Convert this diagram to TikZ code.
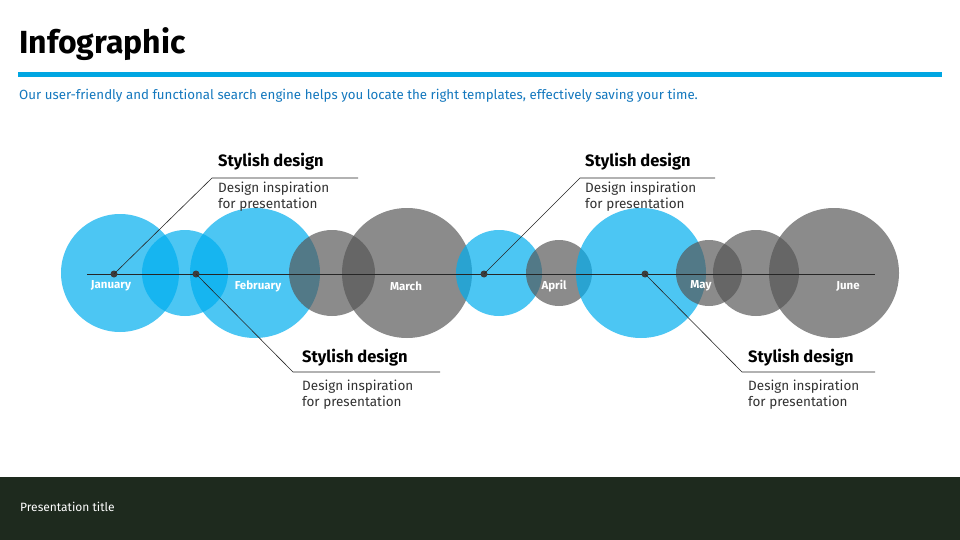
\documentclass[tikz,border=0pt]{standalone}
\usepackage{fontspec}
\setmainfont{Fira Sans}
\definecolor{cblue}{RGB}{0,174,239}
\definecolor{cgrey}{RGB}{85,85,85}
\definecolor{rule}{RGB}{0,166,226}
\definecolor{subc}{RGB}{20,120,190}
\definecolor{dotg}{RGB}{60,60,60}
\definecolor{bodyc}{RGB}{50,50,50}
\definecolor{foot}{RGB}{30,42,30}
\begin{document}
\begin{tikzpicture}[x=1pt,y=-1pt,
  bc/.style={fill=cblue,fill opacity=0.7},
  gc/.style={fill=cgrey,fill opacity=0.68},
  mon/.style={text=white,font=\bfseries\fontsize{11.5}{13}\selectfont},
  dotc/.style={circle,fill=dotg,inner sep=0,minimum size=7pt},
  ttl/.style={anchor=west,font=\bfseries\fontsize{16.5}{19}\selectfont,inner sep=0},
  bdy/.style={anchor=north west,align=left,font=\fontsize{13.5}{16}\selectfont,text=bodyc,inner sep=0},
  cl/.style={draw=black!85,line width=0.6pt}]
\useasboundingbox (0,0) rectangle (960,540);
\fill[white] (0,0) rectangle (960,540);
\node[anchor=west,inner sep=0,font=\bfseries\fontsize{32}{36}\selectfont] (title) at (19,44) {Infographic};
\fill[rule] (18,72.5) rectangle (942,77.5);
\node[anchor=west,inner sep=0,text=subc,font=\fontsize{13.3}{15}\selectfont] (sub) at (19,96) {Our user-friendly and functional search engine helps you locate the right templates, effectively saving your time.};
% circles
\fill[bc] (120,273) circle (59);
\fill[bc] (185,273) circle (43);
\fill[bc] (255,273) circle (65);
\fill[gc] (332,273) circle (43);
\fill[gc] (407,273) circle (65);
\fill[bc] (499,273) circle (43);
\fill[gc] (559,273) circle (33);
\fill[bc] (641,273) circle (65);
\fill[gc] (709,273) circle (33);
\fill[gc] (756,273) circle (43);
\fill[gc] (834,273) circle (65);
% timeline
\coordinate (ls) at (87,274); \coordinate (le) at (875,274);
\draw[line width=0.8pt,black!85] (ls) -- (le);
\node[mon] (jan) at (111,286) {January};
\node[mon] (feb) at (258,286) {February};
\node[mon] (mar) at (406,286) {March};
\node[mon] (apr) at (554,286) {April};
\node[mon] (may) at (701,286) {May};
\node[mon] (jun) at (848,286) {June};
\node[dotc] (d1) at (114,274) {};
\node[dotc] (d2) at (196,274) {};
\node[dotc] (d3) at (484,274) {};
\node[dotc] (d4) at (645,274) {};
% callouts
\coordinate (c1a) at (212,178); \coordinate (c1b) at (358,178);
\draw[cl] (d1.center) -- (c1a) -- (c1b);
\node[ttl] (t1) at (218,162) {Stylish design};
\node[bdy] (b1) at (218,182) {Design inspiration\\for presentation};
\coordinate (c2a) at (293,372); \coordinate (c2b) at (440,372);
\draw[cl] (d2.center) -- (c2a) -- (c2b);
\node[ttl] (t2) at (302,358) {Stylish design};
\node[bdy] (b2) at (302,380) {Design inspiration\\for presentation};
\coordinate (c3a) at (580,178); \coordinate (c3b) at (715,178);
\draw[cl] (d3.center) -- (c3a) -- (c3b);
\node[ttl] (t3) at (585,162) {Stylish design};
\node[bdy] (b3) at (585,182) {Design inspiration\\for presentation};
\coordinate (c4a) at (742,372); \coordinate (c4b) at (875,372);
\draw[cl] (d4.center) -- (c4a) -- (c4b);
\node[ttl] (t4) at (748,358) {Stylish design};
\node[bdy] (b4) at (748,380) {Design inspiration\\for presentation};
% footer
\fill[foot] (0,477) rectangle (960,540);
\node[anchor=west,inner sep=0,text=white,font=\fontsize{12}{14}\selectfont] (ft) at (20,507) {Presentation title};
\end{tikzpicture}
\end{document}
